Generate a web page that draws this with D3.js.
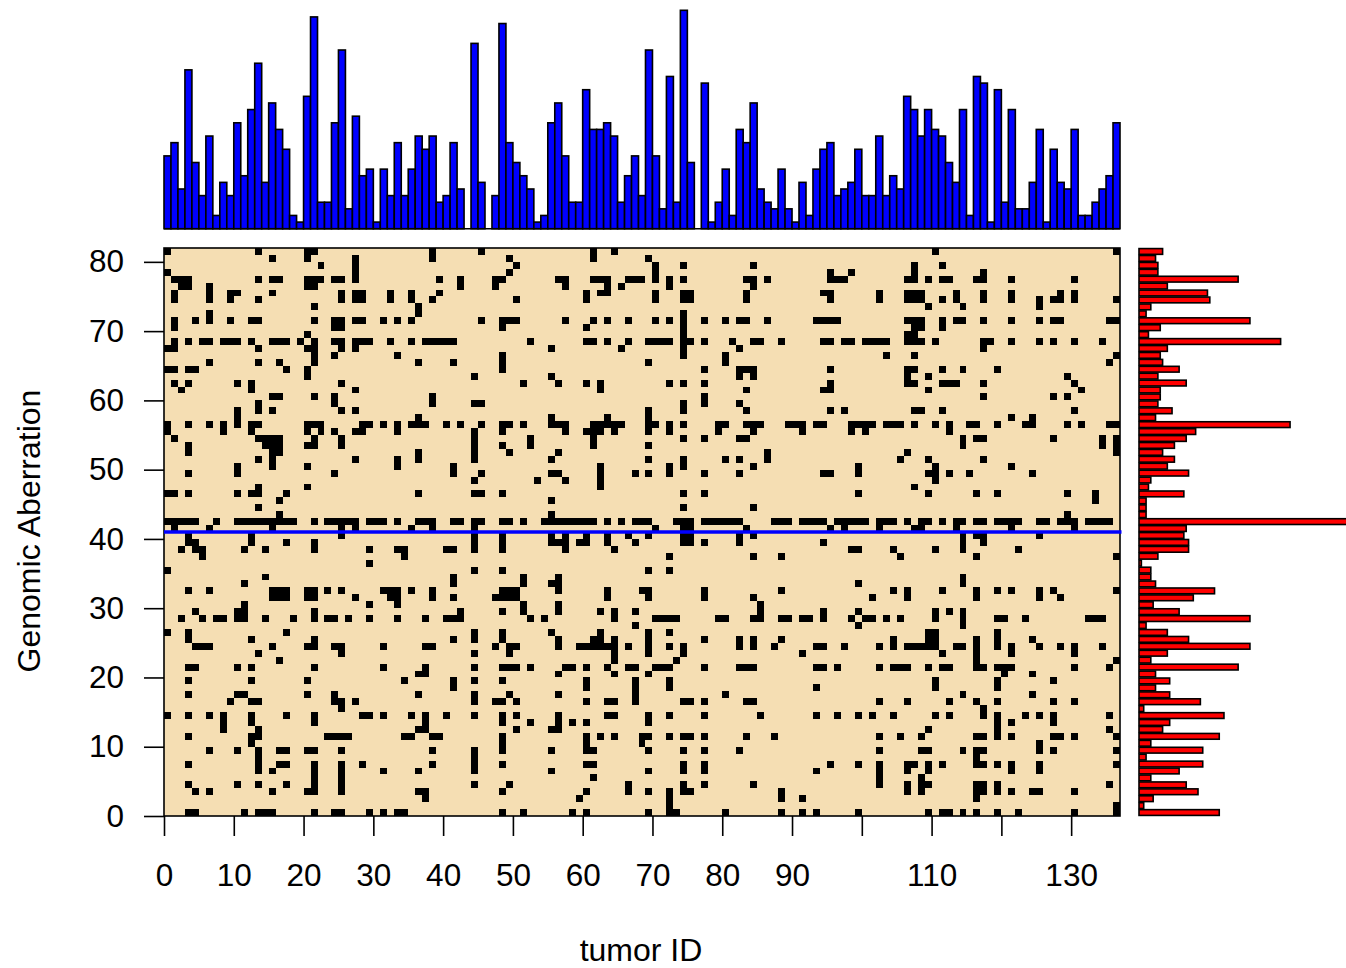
<!DOCTYPE html>
<html>
<head>
<meta charset="utf-8">
<script src="https://cdn.jsdelivr.net/npm/d3@7"></script>
<style>
  html, body { margin: 0; padding: 0; background: #fff; overflow: hidden; }
  text { font-family: "Liberation Sans", Arial, sans-serif; fill: #000; }
</style>
</head>
<body>
<svg id="chart" width="1346" height="968"></svg>
<script>
// columns that carry an aberration, listed row by row from value 81 down to value 0
const cellRows = [
  [0,13,20,21,38,45,61,64,110,136],
  [15,20,27,38,49,61,69],
  [22,27,50,70,74,84,107,111],
  [0,27,49,70,95,98,107,117],
  [1,2,3,13,15,16,20,21,22,24,25,27,39,42,47,48,56,57,61,62,63,66,67,68,70,72,74,83,84,86,95,96,97,106,107,109,111,112,116,117,121,130],
  [2,3,6,20,21,42,47,57,63,65,72,84],
  [1,6,9,10,15,25,27,28,32,35,39,60,62,63,70,74,75,83,94,95,102,106,107,108,113,117,121,128,130],
  [1,6,9,13,25,27,28,32,35,38,50,60,70,74,75,83,95,102,106,107,108,111,113,117,121,125,127,128,130,136],
  [21,36,109,114,125],
  [6,36,74],
  [1,4,6,9,12,13,21,24,25,27,28,31,33,35,45,48,49,50,57,61,63,66,70,72,74,77,80,82,83,86,93,94,95,96,106,107,108,111,113,114,117,121,125,127,128,135,136],
  [1,24,25,48,60,74,107,108,111],
  [20,74,106,107],
  [1,3,5,6,8,9,10,12,15,16,17,19,21,24,25,27,28,29,32,35,37,38,39,40,41,52,60,61,63,66,69,70,71,72,74,75,77,81,84,85,88,94,95,97,98,100,101,102,103,106,107,108,110,117,118,121,125,127,130,134],
  [0,1,13,20,21,25,27,55,65,74,82,117],
  [21,24,33,48,74,80,103,107,136],
  [6,13,16,21,36,41,48,69,80,135],
  [0,1,3,4,17,20,48,77,82,83,84,95,106,107,111,114,119],
  [20,44,55,82,84,106,109,129],
  [1,3,10,12,25,51,56,60,62,72,74,77,95,106,107,111,112,113,117,130],
  [2,12,27,62,83,94,95,109,131],
  [15,16,21,24,38,77,117,127,129],
  [13,24,38,44,45,74,77,82],
  [10,13,15,25,27,69,74,83,95,97,107,108,111,130],
  [10,36,55,63,69,121,124],
  [0,3,6,8,10,12,13,20,21,22,28,29,31,33,35,36,37,40,42,45,48,49,51,55,56,57,61,62,63,64,65,69,70,72,74,79,80,83,84,85,89,90,91,93,94,98,99,100,101,103,104,105,107,110,112,115,116,119,123,124,129,131,135,136],
  [0,8,12,20,22,24,27,28,33,44,48,57,60,61,62,64,69,72,79,84,91,98,100,112],
  [1,13,14,15,16,21,25,44,52,61,74,77,82,83,114,116,117,127,134,136],
  [3,14,15,16,20,21,25,44,48,52,61,69,114,134,136],
  [3,15,16,36,44,49,56,86,106,136],
  [13,15,27,33,36,44,55,69,74,80,82,86,105,109,117],
  [10,15,20,33,41,62,72,74,84,99,110,121],
  [3,10,24,41,45,55,56,62,67,69,72,77,82,94,95,99,109,110,112,115,124],
  [44,53,57,62,110],
  [13,20,62,107],
  [0,1,3,10,12,13,17,36,44,45,48,74,77,99,109,116,119,129,133],
  [16,55,133],
  [13,74,84],
  [16,55,129],
  [0,1,2,3,4,7,10,11,12,13,14,15,16,17,18,21,23,24,25,26,27,29,30,31,33,36,37,38,41,42,44,45,48,49,51,54,55,56,57,58,59,60,61,63,65,67,68,69,73,74,75,77,78,79,80,81,82,87,88,89,91,92,93,94,96,97,98,99,100,102,103,104,106,108,109,111,113,114,116,117,119,120,121,122,125,126,128,129,130,132,133,134,135],
  [1,6,15,25,27,35,38,44,70,74,75,83,95,97,102,107,108,113,121,130],
  [3,12,25,44,48,55,57,60,63,66,69,74,75,82,84,114,116,117,125],
  [3,4,12,17,21,44,48,55,56,57,59,60,63,67,74,75,77,82,94,114,117],
  [2,4,5,11,14,21,29,33,34,40,41,44,48,57,64,98,99,104,110,114,122],
  [5,34,72,84,88,105,116,136],
  [29],
  [0,44,48,69,72],
  [14,41,51,56,114],
  [11,41,51,55,56,99,114],
  [3,6,15,16,17,20,21,23,25,31,32,33,35,38,48,49,50,56,63,68,69,77,88,104,106,111,116,119,121,125,127,136],
  [15,16,17,20,21,27,32,33,38,41,47,48,49,50,63,69,77,84,101,106,116,125,128],
  [11,29,33,51,56,85],
  [4,10,11,21,42,48,51,56,62,64,67,85,94,99,110,112,114],
  [2,5,7,8,10,11,14,18,21,23,24,26,29,33,37,40,41,42,52,54,64,70,71,72,73,79,80,84,85,88,89,91,92,94,98,100,101,103,105,110,114,119,120,123,132,133,134],
  [67,99,114],
  [0,3,17,44,48,55,62,69,72,109,110,119],
  [3,12,21,41,44,48,56,61,62,64,69,77,82,84,88,104,109,110,116,119,124],
  [4,5,6,15,20,21,24,25,31,37,38,47,49,50,56,59,60,61,62,63,64,66,69,72,74,82,84,87,93,94,97,102,104,106,107,108,109,110,113,114,116,119,121,125,128,130,134],
  [13,25,44,49,64,69,74,91,111,116,121,130],
  [16,64,73,116,136],
  [3,4,10,12,21,31,37,44,48,49,50,52,57,58,60,63,66,67,70,71,72,77,82,83,84,93,94,96,102,104,105,106,109,111,112,116,117,119,120,121,130,135],
  [36,37,56,64,69,120,124],
  [3,12,20,34,41,44,48,60,67,72,110,119,127],
  [41,60,67,72,93,110,119],
  [3,10,11,20,24,36,44,49,56,67,80,114,124],
  [9,12,13,24,25,27,44,47,48,50,60,63,64,67,74,75,77,83,84,102,106,112,116,119,127,130],
  [25,117],
  [0,3,6,8,12,17,21,28,29,31,35,37,40,44,48,50,56,63,64,69,72,77,85,93,96,99,101,104,110,112,117,119,123,125,127,135],
  [8,12,21,37,48,52,56,58,60,69,119,121,127],
  [8,13,36,37,50,55,56,109,119,135],
  [3,12,13,23,24,25,26,34,35,38,39,48,60,62,64,68,69,72,74,75,77,83,87,102,105,108,116,117,119,121,127,128,130,136],
  [12,48,60,68,125],
  [6,10,13,16,17,20,21,25,38,44,48,55,60,61,69,74,77,82,102,108,109,114,116,117,125,127,136],
  [13,44,116],
  [3,13,16,17,21,25,28,38,44,48,60,61,74,77,95,99,102,106,107,109,111,116,117,119,121,125,136],
  [13,15,21,25,31,36,44,55,69,74,77,93,102,106,109,121,125],
  [21,25,61,102,108],
  [3,10,13,17,21,25,44,49,66,74,77,84,102,106,108,109,116,117,119,135],
  [4,6,15,20,21,25,36,37,48,60,66,69,72,74,75,88,106,108,116,117,119,121,124,125,130],
  [37,59,72,88,91,116],
  [72,136],
  [3,4,11,13,14,15,21,24,25,29,31,33,34,48,51,58,60,69,72,73,80,88,91,93,99,109,111,112,114,116,119,122,130,136]
];

// bar heights along the top, one per tumor
const tumorCounts = [11,13,6,24,10,5,14,2,7,5,16,8,18,25,7,19,15,12,2,1,20,32,4,4,16,27,3,17,8,9,1,9,5,13,5,9,14,12,14,4,5,13,6,0,28,7,0,5,31,13,10,8,6,1,2,16,19,11,4,4,21,15,15,16,14,4,8,11,5,27,11,3,23,4,33,10,0,22,1,4,9,2,15,13,19,6,4,3,9,3,1,7,2,9,12,13,5,6,7,12,5,5,14,5,8,6,20,18,14,18,15,14,10,7,18,2,23,22,1,21,4,18,3,3,7,15,1,12,7,6,15,2,2,4,6,8,16];

// bar lengths on the right, from value 81 down to value 0
const aberrationCounts = [10,7,8,8,42,12,29,30,5,3,47,9,4,60,12,9,10,17,8,20,9,9,8,14,7,64,24,20,15,10,15,12,21,5,4,19,3,3,3,93,20,19,21,21,8,1,5,5,7,32,23,6,17,47,3,12,21,47,12,5,42,7,13,7,13,26,2,36,13,10,34,5,27,3,27,17,5,20,25,6,2,34];

const axisTicks = [0,10,20,30,40,50,60,70,80];
const xTicks = [0,10,20,30,40,50,60,70,80,90,100,110,120,130];
const xTickLabels = [0,10,20,30,40,50,60,70,80,90,110,130];
const cutLine = 41;

const lineW = 1.6;

const svg = d3.select("#chart");
const nCols = tumorCounts.length;
const nRows = aberrationCounts.length;

const x = d3.scaleLinear().domain([0, nCols]).range([164, 1120]);
const y = d3.scaleLinear().domain([0, nRows]).range([816, 248]);
const yTop = d3.scaleLinear().domain([0, 33]).range([228.7, 10.3]);
const xRight = d3.scaleLinear().domain([0, 93]).range([1139, 1358.5]);

const cells = cellRows.flatMap((cols, i) => cols.map(c => ({ col: c, row: nRows - 1 - i })));

// heat map
svg.append("rect")
  .attr("x", x(0)).attr("y", y(nRows))
  .attr("width", x(nCols) - x(0)).attr("height", y(0) - y(nRows))
  .attr("fill", "#F5DEB3");

svg.append("g").attr("shape-rendering", "crispEdges")
  .selectAll("rect")
  .data(cells)
  .join("rect")
    .attr("x", d => Math.round(x(d.col)))
    .attr("y", d => Math.round(y(d.row + 1)))
    .attr("width", d => Math.round(x(d.col + 1)) - Math.round(x(d.col)))
    .attr("height", d => Math.round(y(d.row)) - Math.round(y(d.row + 1)))
    .attr("fill", "#000");

svg.append("rect")
  .attr("x", x(0)).attr("y", y(nRows))
  .attr("width", x(nCols) - x(0)).attr("height", y(0) - y(nRows))
  .attr("fill", "none").attr("stroke", "#000").attr("stroke-width", lineW);

// blue cut line
svg.append("line")
  .attr("x1", x(0)).attr("x2", x(nCols) + 1.5)
  .attr("y1", y(cutLine)).attr("y2", y(cutLine))
  .attr("stroke", "#0000FF").attr("stroke-width", 3.6);

// top bars
svg.append("g").selectAll("rect")
  .data(tumorCounts)
  .join("rect")
    .attr("x", (d, i) => x(i))
    .attr("y", d => yTop(d))
    .attr("width", (d, i) => x(i + 1) - x(i))
    .attr("height", d => yTop(0) - yTop(d))
    .attr("fill", "#0000FF")
    .attr("stroke", "#000")
    .attr("stroke-width", lineW);

// empty tumors still show their flat bar along the base
svg.append("line")
  .attr("x1", x(0)).attr("x2", x(nCols))
  .attr("y1", yTop(0)).attr("y2", yTop(0))
  .attr("stroke", "#000").attr("stroke-width", lineW);

// right bars
svg.append("g").selectAll("rect")
  .data(aberrationCounts)
  .join("rect")
    .attr("x", xRight(0))
    .attr("y", (d, i) => y(nRows - i) + (y(0) - y(1)) * 0.083)
    .attr("width", d => xRight(d) - xRight(0))
    .attr("height", (y(0) - y(1)) * 0.833)
    .attr("fill", "#FF0000")
    .attr("stroke", "#000")
    .attr("stroke-width", lineW);

// axes
const xAxis = svg.append("g").attr("transform", `translate(0,${y(0)})`)
  .call(d3.axisBottom(x).tickValues(xTicks).tickSize(20).tickPadding(28)
    .tickFormat(d => xTickLabels.includes(d) ? d : ""));
const yAxis = svg.append("g").attr("transform", `translate(${x(0)},0)`)
  .call(d3.axisLeft(y).tickValues(axisTicks).tickSize(20).tickPadding(20).tickFormat(d3.format("d")));

[xAxis, yAxis].forEach(g => {
  g.selectAll("line").attr("stroke", "#000").attr("stroke-width", lineW);
  g.selectAll(".domain").remove();
  g.selectAll("text").attr("font-size", 31.5).attr("font-family", null);
});

svg.append("text")
  .attr("x", 641).attr("y", 961)
  .attr("text-anchor", "middle").attr("font-size", 32)
  .text("tumor ID");
svg.append("text")
  .attr("transform", "translate(40,531) rotate(-90)")
  .attr("text-anchor", "middle").attr("font-size", 32)
  .text("Genomic Aberration");
</script>
</body>
</html>
